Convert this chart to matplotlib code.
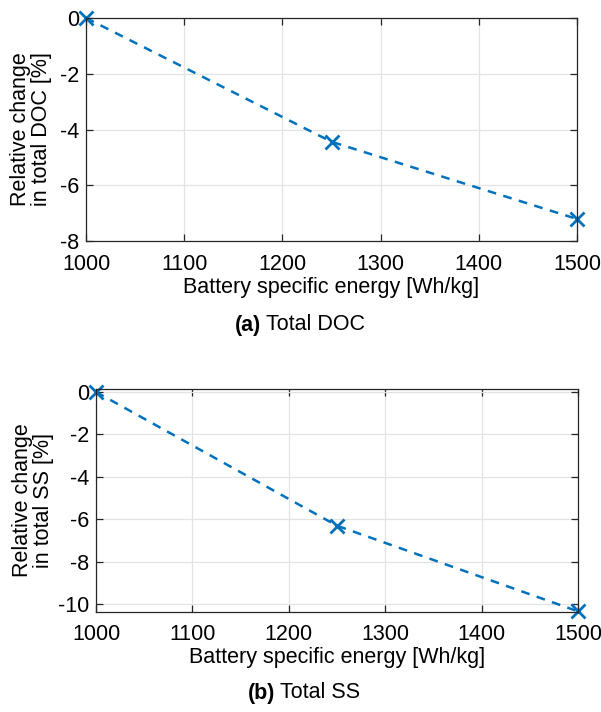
import matplotlib
matplotlib.use("Agg")
import matplotlib.pyplot as plt

plt.rcParams['font.family'] = ['Liberation Sans', 'DejaVu Sans']

energy = [1000, 1250, 1500]
doc_change = [0.0, -4.44, -7.21]
ss_change = [0.0, -6.31, -10.35]
xticks = [1000, 1100, 1200, 1300, 1400, 1500]
doc_yticks = [0, -2, -4, -6, -8]
ss_yticks = [0, -2, -4, -6, -8, -10]

W, H = 601, 712
fig = plt.figure(figsize=(W / 100, H / 100), dpi=100)

blue = '#0072BD'
edge = '#262626'
FS = 15.5

def make_ax(rect_px, y, ylim, yticks, ylabel, xlab_y, ylab_x):
    l, t, r, b = rect_px
    ax = fig.add_axes([l / W, 1 - b / H, (r - l) / W, (b - t) / H])
    ax.plot(energy, y, linestyle='--', color=blue, linewidth=1.8,
            marker='x', markersize=10, markeredgewidth=2, clip_on=False, dashes=(3.5, 3))
    ax.set_xlim(1000, 1500)
    ax.set_ylim(*ylim)
    ax.set_xticks(xticks)
    ax.set_yticks(yticks)
    ax.set_yticklabels([str(v) for v in yticks])
    ax.grid(True, color='#e3e3e3', linewidth=0.9)
    ax.set_axisbelow(True)
    for s in ax.spines.values():
        s.set_color(edge)
        s.set_linewidth(0.9)
    ax.tick_params(direction='in', top=True, right=True, length=5, width=0.9,
                   color=edge, labelsize=FS, labelcolor='black')
    ax.tick_params(axis='x', pad=9)
    ax.tick_params(axis='y', pad=5)
    ax.set_ylabel(ylabel, fontsize=FS, linespacing=1.0, ha='center', va='center')
    ax.yaxis.set_label_coords((ylab_x - l) / (r - l), 0.5)
    fig.text((l + r) / 2 / W, 1 - xlab_y / H, 'Battery specific energy [Wh/kg]',
             ha='center', va='center', fontsize=FS)
    return ax

ax1 = make_ax((86, 18, 577, 241), doc_change, (-8, 0), doc_yticks,
              'Relative change\nin total DOC [%]', 288, 31)
ax2 = make_ax((96, 389, 578, 612), ss_change, (-10.38, 0.14), ss_yticks,
              'Relative change\nin total SS [%]', 658, 33)

# captions
fig.text(261 / W, 1 - 325 / H, '(a)', ha='right', va='center', fontsize=FS, fontweight='bold')
fig.text(266 / W, 1 - 325 / H, 'Total DOC', ha='left', va='center', fontsize=FS)
fig.text(275 / W, 1 - 693 / H, '(b)', ha='right', va='center', fontsize=FS, fontweight='bold')
fig.text(280 / W, 1 - 693 / H, 'Total SS', ha='left', va='center', fontsize=FS)

fig.savefig('out.png', dpi=100)
